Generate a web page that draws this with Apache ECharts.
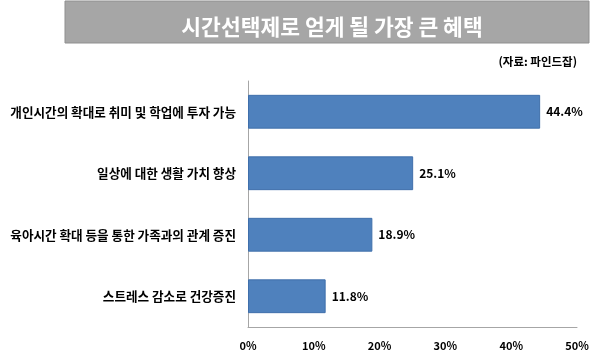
<!DOCTYPE html>
<html>
<head>
<meta charset="utf-8">
<script src="https://cdn.jsdelivr.net/npm/echarts@6/dist/echarts.min.js"></script>
<style>html,body{margin:0;padding:0;background:#fff;}#c{width:600px;height:362px;}</style>
</head>
<body>
<div id="c"></div>
<script>
var titleText = '시간선택제로 얻게 될 가장 큰 혜택';
var sourceText = '(자료: 파인드잡)';
var categories = ['개인시간의 확대로 취미 및 학업에 투자 가능', '일상에 대한 생활 가치 향상', '육아시간 확대 등을 통한 가족과의 관계 증진', '스트레스 감소로 건강증진'];
var values = [44.4, 25.1, 18.9, 11.8];
var axisMin = 0, axisMax = 50, axisInterval = 10;

var font = '"Noto Sans CJK KR", "Noto Sans", sans-serif';
var chart = echarts.init(document.getElementById('c'), null, {renderer: 'canvas'});
chart.setOption({
  animation: false,
  backgroundColor: '#fff',
  graphic: [
    {type: 'rect', shape: {x: 65, y: 1, width: 524, height: 42}, style: {fill: '#a6a6a6', stroke: '#8f8f8f', lineWidth: 1}, z: 0}
  ],
  title: [
    {text: titleText, left: 327, top: 22, textAlign: 'center', textVerticalAlign: 'middle',
     textStyle: {color: '#fff', fontSize: 21.5, fontWeight: 'bold', fontFamily: font}, z: 10},
    {text: sourceText, right: 18, top: 51,
     textStyle: {color: '#000', fontSize: 11.5, fontWeight: 'bold', fontFamily: font}}
  ],
  grid: {left: 248, right: 23, top: 81, bottom: 35, containLabel: false},
  xAxis: {
    type: 'value', min: axisMin, max: axisMax, interval: axisInterval,
    axisLine: {show: true, lineStyle: {color: '#a6a6a6', width: 1}},
    axisTick: {show: false},
    splitLine: {show: false},
    axisLabel: {formatter: '{value}%', color: '#000', fontSize: 11, fontWeight: 'bold', fontFamily: font, margin: 13}
  },
  yAxis: {
    type: 'category', data: categories, inverse: true,
    axisLine: {show: true, lineStyle: {color: '#a6a6a6', width: 1}},
    axisTick: {show: false},
    axisLabel: {color: '#000', fontSize: 12.6, fontWeight: 'bold', fontFamily: font, margin: 12}
  },
  series: [{
    type: 'bar', data: values, barCategoryGap: '45%',
    itemStyle: {color: '#4f81bd', borderColor: '#3f6fab', borderWidth: 1},
    label: {show: true, position: 'right', distance: 6, formatter: function(p){return p.value.toFixed(1) + '%';},
            color: '#000', fontSize: 12, fontWeight: 'bold', fontFamily: font}
  }]
});
</script>
</body>
</html>
